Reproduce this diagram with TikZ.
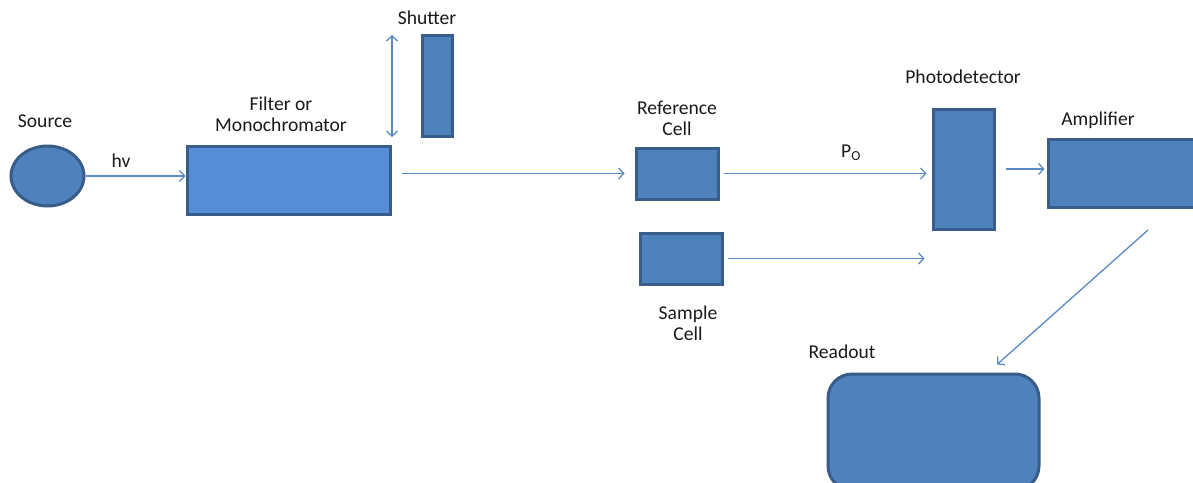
\documentclass[tikz,border=0pt]{standalone}
\usepackage{fontspec}
\setmainfont{Carlito}
\usetikzlibrary{arrows.meta,shapes.geometric}
\definecolor{boxfill}{HTML}{4F81BD}
\definecolor{boxlight}{HTML}{558ED5}
\definecolor{boxline}{HTML}{385D8A}
\definecolor{arrowcol}{HTML}{5A8AC6}
\begin{document}
\begin{tikzpicture}[x=1pt,y=1pt,
  font=\fontsize{19.6}{21}\selectfont,
  block/.style={draw=boxline,line width=3pt,fill=boxfill,inner sep=0pt,
    minimum width=#1},
  block/.default=10pt,
  arr/.style={draw=arrowcol,line width=1.3pt,-{Straight Barb[length=5pt,width=11pt]}},
  lbl/.style={align=center,inner sep=0pt,text=black!90}]
\useasboundingbox (0,0) rectangle (1193,-482);

% instruments
\node[draw=boxline,line width=3pt,fill=boxfill,ellipse,inner sep=0pt,
  minimum width=73pt,minimum height=60pt] (source) at (47.5,-176) {};
\node[block=203pt,minimum height=68pt,fill=boxlight] (filter) at (288.5,-180) {};
\node[block=30pt,minimum height=101pt] (shutter) at (437,-85.5) {};
\node[block=82pt,minimum height=51pt] (ref) at (677,-173.5) {};
\node[block=82pt,minimum height=51pt] (sample) at (681,-258.5) {};
\node[block=61pt,minimum height=120pt] (pd) at (963.5,-169) {};
\node[block=154pt,minimum height=68pt] (amp) at (1125,-173) {};
\node[block=211pt,minimum height=116pt,rounded corners=24pt] (readout) at (933.5,-432) {};

% labels
\node[lbl] (tsource) at (45,-121) {Source};
\node[lbl] (thv) at (121,-161) {hv};
\node[lbl] (tfilter) at (281,-114) {Filter or\\Monochromator};
\node[lbl] (tshutter) at (427,-18) {Shutter};
\node[lbl] (tref) at (677,-118) {Reference\\Cell};
\node[lbl] (tsample) at (688,-323) {Sample\\Cell};
\node[lbl] (tpo) at (851,-153) {P\textsubscript{O}};
\node[lbl] (tpd) at (963,-77) {Photodetector};
\node[lbl] (tamp) at (1098,-120) {Amplifier};
\node[lbl] (treadout) at (842,-352) {Readout};

% shutter travel
\coordinate (shtop) at (392,-35);
\coordinate (shbot) at (392,-137);
\draw[draw=arrowcol,line width=1.3pt,{Straight Barb[length=5pt,width=11pt]}-{Straight Barb[length=5pt,width=11pt]}] (shtop) -- (shbot);

% light path
\draw[arr] (source.east) -- (source.east -| filter.west);
\draw[arr] ([xshift=10pt]filter.east |- ref.west) -- ([xshift=-10pt]ref.west);
\draw[arr] ([xshift=4pt]ref.east) -- ([xshift=-5pt]ref.east -| pd.west);
\draw[arr] ([xshift=4pt]sample.east) -- ([xshift=-7pt]sample.east -| pd.west);
\draw[arr] ([xshift=10pt,yshift=0pt]pd.east) -- ([xshift=-2pt]pd.east -| amp.west);
\coordinate (ampout) at (1148,-230);
\draw[arr] (ampout) -- ([xshift=63.5pt,yshift=8pt]readout.north);
\end{tikzpicture}
\end{document}
